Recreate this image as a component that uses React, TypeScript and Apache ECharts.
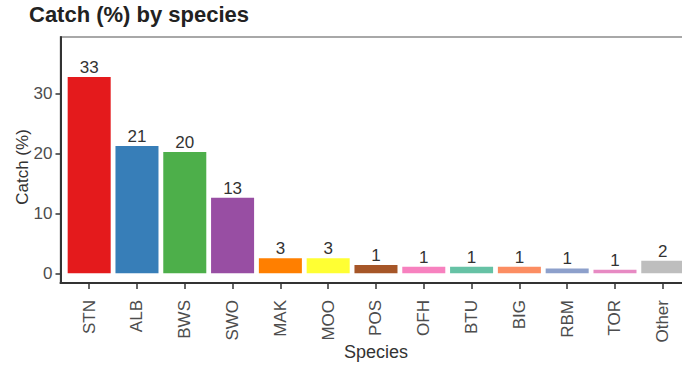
import React, { useEffect, useRef } from "react";
import * as echarts from "echarts";

// Catch share per species (percent)
const species = ["STN", "ALB", "BWS", "SWO", "MAK", "MOO", "POS", "OFH", "BTU", "BIG", "RBM", "TOR", "Other"];
const catchPct = [32.7, 21.2, 20.2, 12.6, 2.5, 2.5, 1.4, 1.1, 1.1, 1.1, 0.8, 0.6, 2.1];
const barColors = [
  "#E41A1C", "#377EB8", "#4DAF4A", "#984EA3", "#FF7F00", "#FFFF33", "#A65628",
  "#F781BF", "#66C2A5", "#FC8D62", "#8DA0CB", "#E78AC3", "#BEBEBE",
];
const yTicks = [0, 10, 20, 30];

const FONT = "'Liberation Sans', Arial, Helvetica, sans-serif";

export default function App() {
  const ref = useRef<HTMLDivElement>(null);

  useEffect(() => {
    if (!ref.current) return;
    const chart = echarts.init(ref.current, null, { renderer: "svg" });
    // categories sit at 1..n on a numeric axis, with 0.6 of a slot of padding on each side
    const positions = species.map((_, i) => i + 1);
    const slot = 47.8;
    chart.setOption({
      animation: false,
      backgroundColor: "#ffffff",
      title: {
        text: "Catch (%) by species",
        left: 29,
        top: 3,
        padding: 0,
        textStyle: { fontFamily: FONT, fontSize: 22, fontWeight: "bold", color: "#222222" },
      },
      grid: {
        left: 60.5,
        top: 37,
        width: slot * (species.length + 0.2),
        height: 246,
        outerBoundsMode: "none",
        containLabel: false,
        show: true,
        borderColor: "#8c8c8c",
        borderWidth: 1.5,
        backgroundColor: "transparent",
      },
      xAxis: {
        type: "value",
        min: 0.4,
        max: species.length + 0.6,
        splitLine: { show: false },
        axisLine: { show: true, onZero: false, lineStyle: { color: "#333333", width: 2 } },
        axisTick: {
          show: true,
          customValues: positions,
          length: 6,
          lineStyle: { color: "#333333", width: 1.5 },
        },
        axisLabel: {
          customValues: positions,
          rotate: 90,
          margin: 17,
          fontFamily: FONT,
          fontSize: 17,
          color: "#4d4d4d",
          formatter: (v: number) => species[Math.round(v) - 1] ?? "",
        },
      },
      yAxis: {
        type: "value",
        min: -1.62,
        max: 39.38,
        splitLine: { show: false },
        axisLine: { show: true, onZero: false, lineStyle: { color: "#333333", width: 2 } },
        axisTick: {
          show: true,
          customValues: yTicks,
          length: 5,
          lineStyle: { color: "#333333", width: 1.5 },
        },
        axisLabel: {
          customValues: yTicks,
          margin: 8,
          fontFamily: FONT,
          fontSize: 17,
          color: "#4d4d4d",
        },
      },
      graphic: [
        {
          type: "text",
          x: 22,
          y: 167,
          rotation: Math.PI / 2,
          style: {
            text: "Catch (%)",
            fontFamily: FONT,
            fontSize: 17,
            fill: "#333333",
            align: "center",
            verticalAlign: "middle",
          },
        },
        {
          type: "text",
          x: 376,
          y: 352,
          style: {
            text: "Species",
            fontFamily: FONT,
            fontSize: 18,
            fill: "#333333",
            align: "center",
            verticalAlign: "middle",
          },
        },
      ],
      series: [
        {
          type: "bar",
          barWidth: slot * 0.9,
          data: positions.map((p, i) => ({
            value: [p, catchPct[i]],
            itemStyle: { color: barColors[i] },
          })),
          label: {
            show: true,
            position: "top",
            distance: 1,
            fontFamily: FONT,
            fontSize: 17,
            color: "#333333",
            formatter: (p: any) => String(Math.round(p.value[1])),
          },
        },
      ],
    });
    return () => chart.dispose();
  }, []);

  return (
    <div
      ref={ref}
      style={{ position: "fixed", left: 0, top: 0, width: 682, height: 365, background: "#fff" }}
    />
  );
}
